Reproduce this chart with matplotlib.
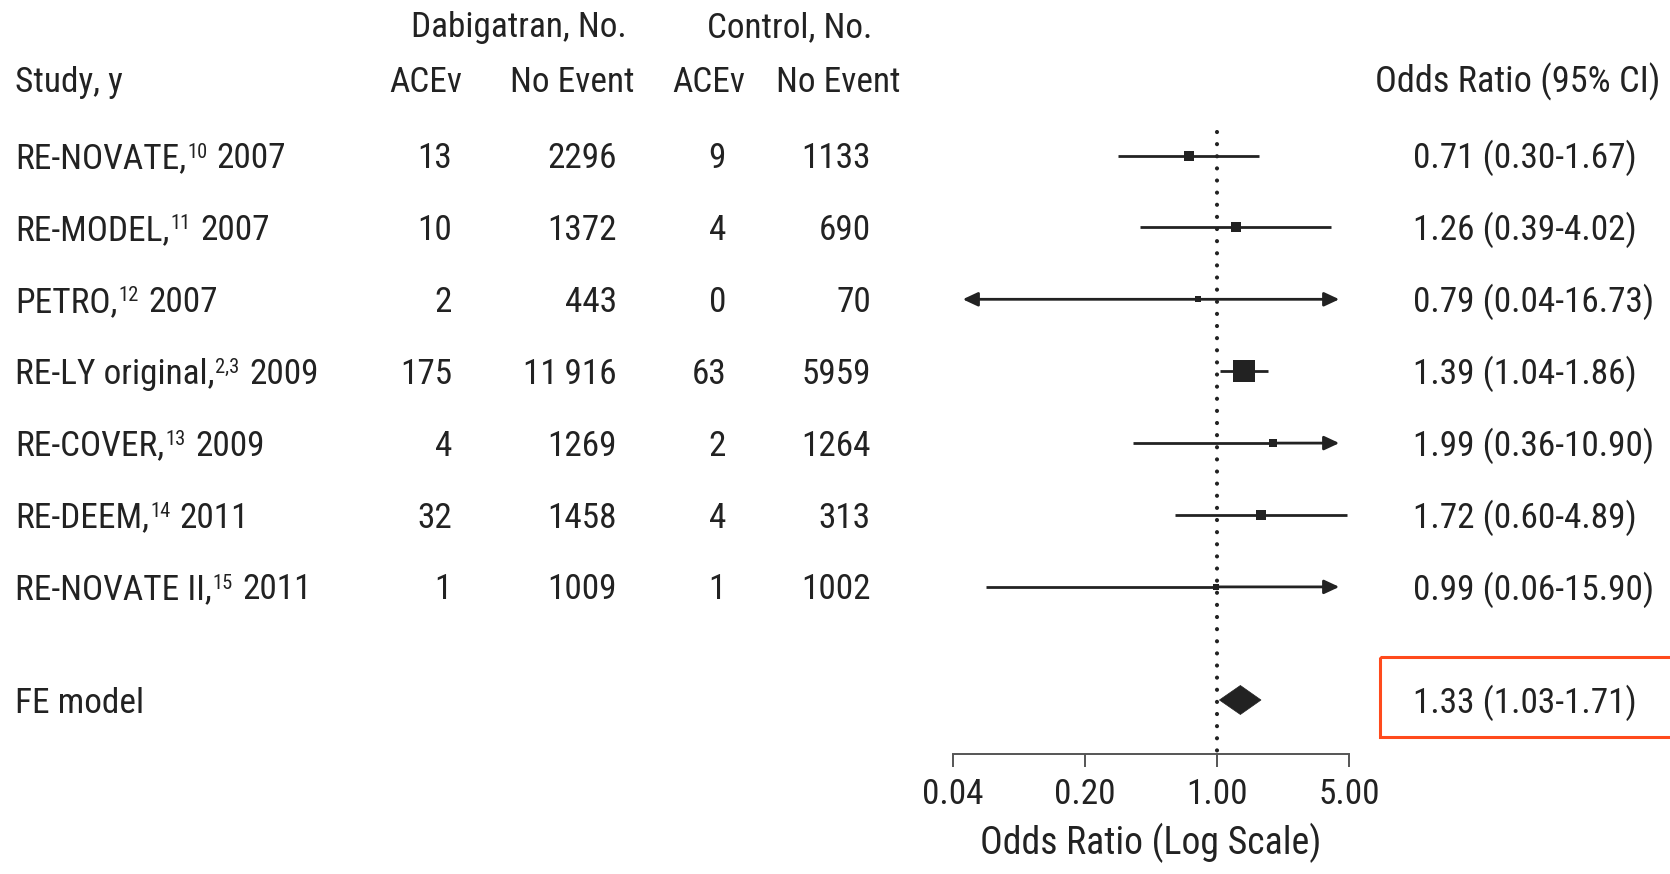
import numpy as np
import matplotlib.pyplot as plt
from matplotlib import font_manager
from matplotlib.patches import Polygon, Rectangle
from matplotlib.ticker import NullLocator

# data
studies = ['RE-NOVATE', 'RE-MODEL', 'PETRO', 'RE-LY original', 'RE-COVER', 'RE-DEEM', 'RE-NOVATE II']
refs = ['10', '11', '12', '2,3', '13', '14', '15']
years = [2007, 2007, 2007, 2009, 2009, 2011, 2011]
dab_events = [13, 10, 2, 175, 4, 32, 1]
dab_none = [2296, 1372, 443, 11916, 1269, 1458, 1009]
ctl_events = [9, 4, 0, 63, 2, 4, 1]
ctl_none = [1133, 690, 70, 5959, 1264, 313, 1002]
odds = [0.71, 1.26, 0.79, 1.39, 1.99, 1.72, 0.99]
ci_low = [0.30, 0.39, 0.04, 1.04, 0.36, 0.60, 0.06]
ci_high = [1.67, 4.02, 16.73, 1.86, 10.90, 4.89, 15.90]
fe_or, fe_low, fe_high = 1.33, 1.03, 1.71
ticks = [0.04, 0.20, 1.00, 5.00]

W, H = 1670, 874
INK = '#222222'

names = {f.name for f in font_manager.fontManager.ttflist}
FONT = 'Liberation Sans'
for cand in ['Liberation Sans Narrow', 'Roboto Condensed', 'Archivo Narrow',
             'PT Sans Narrow', 'Fira Sans Condensed', 'Barlow Semi Condensed']:
    if cand in names:
        FONT = cand
        break
plt.rcParams['font.family'] = [FONT, 'DejaVu Sans']
plt.rcParams['text.color'] = INK

fig = plt.figure(figsize=(W / 100, H / 100), dpi=100)
renderer = fig.canvas.get_renderer()

# size the font so a value label is as wide as in the original
probe = fig.text(0, 0, '0.71 (0.30-1.67)', fontsize=20)
FS = 20 * 224 / probe.get_window_extent(renderer).width
probe.remove()
CAP = 0.71 * FS * 100 / 72  # cap height in pixels

bg = fig.add_axes([0, 0, 1, 1])
bg.set_xlim(0, W)
bg.set_ylim(H, 0)
bg.axis('off')

# forest panel, same vertical pixel scale as the table
x0, x1 = 953, 1349
ax = fig.add_axes([x0 / W, 0, (x1 - x0) / W, 1])
ax.set_xscale('log')
ax.set_xlim(ticks[0], ticks[-1])
ax.set_ylim(H, 0)
ax.patch.set_visible(False)
for s in ['top', 'left', 'right']:
    ax.spines[s].set_visible(False)
ax.spines['bottom'].set_position(('data', 754))
ax.spines['bottom'].set_bounds(ticks[0], ticks[-1])
ax.spines['bottom'].set_color('#555555')
ax.spines['bottom'].set_linewidth(1.4)
ax.set_xticks(ticks)
ax.set_xticklabels([f'{t:.2f}' for t in ticks])
ax.xaxis.set_minor_locator(NullLocator())
ax.tick_params(axis='x', direction='out', length=9, width=1.4, color='#555555',
               labelsize=FS, labelcolor=INK, pad=8)
ax.set_yticks([])

ROW0, STEP = 155.5, 71.9
FE_Y = 700
OFF = CAP / 2  # baseline below row centre


def fmt(n):
    return f'{n:,}'.replace(',', '\u2009') if n >= 10000 else str(n)


def width(t):
    return t.get_window_extent(renderer).width


# headers
bg.text(519, 37, 'Dabigatran, No.', ha='center', va='baseline', fontsize=FS)
bg.text(790, 37, 'Control, No.', ha='center', va='baseline', fontsize=FS)
bg.text(15, 92, 'Study, y', ha='left', va='baseline', fontsize=FS)
for xc, t in [(426, 'ACEv'), (572, 'No Event'), (709, 'ACEv'), (838, 'No Event')]:
    bg.text(xc, 92, t, ha='center', va='baseline', fontsize=FS)
bg.text(1660, 92, 'Odds Ratio (95% CI)', ha='right', va='baseline', fontsize=FS * 1.03)

# reference line at OR = 1
ax.plot([1, 1], [132, 754], color=INK, lw=3.0, linestyle=(0, (0.01, 2.9)),
        dash_capstyle='round', clip_on=False)

arrow = dict(arrowstyle='-|>,head_length=9,head_width=4.2', mutation_scale=1,
             lw=2.0, color=INK, shrinkA=0, shrinkB=7)

SUP = 0.58
for i in range(len(studies)):
    y = ROW0 + i * STEP
    b = y + OFF
    # study name, superscript reference, year
    t1 = bg.text(15, b, studies[i] + ',', ha='left', va='baseline', fontsize=FS)
    xs = 15 + width(t1) + 1
    t2 = bg.text(xs, b - CAP * (1 - SUP), refs[i], ha='left', va='baseline', fontsize=FS * SUP)
    bg.text(xs + width(t2) + 0.27 * FS * 100 / 72, b, str(years[i]),
            ha='left', va='baseline', fontsize=FS)

    bg.text(452, b, fmt(dab_events[i]), ha='right', va='baseline', fontsize=FS)
    bg.text(617, b, fmt(dab_none[i]), ha='right', va='baseline', fontsize=FS)
    bg.text(726, b, fmt(ctl_events[i]), ha='right', va='baseline', fontsize=FS)
    bg.text(871, b, fmt(ctl_none[i]), ha='right', va='baseline', fontsize=FS)
    bg.text(1413, b, f'{odds[i]:.2f} ({ci_low[i]:.2f}-{ci_high[i]:.2f})',
            ha='left', va='baseline', fontsize=FS)

    if ci_low[i] <= ticks[0]:
        ax.annotate('', xy=(ticks[0], y), xytext=(odds[i], y), arrowprops=arrow,
                    annotation_clip=False)
    else:
        ax.plot([ci_low[i], odds[i]], [y, y], color=INK, lw=2.0,
                solid_capstyle='butt', clip_on=False)
    if ci_high[i] > ticks[-1]:
        ax.annotate('', xy=(ticks[-1], y), xytext=(odds[i], y), arrowprops=arrow,
                    annotation_clip=False)
    else:
        ax.plot([odds[i], ci_high[i]], [y, y], color=INK, lw=2.0,
                solid_capstyle='butt', clip_on=False)

    # box side grows with precision of the estimate
    se = (np.log(ci_high[i]) - np.log(ci_low[i])) / (2 * 1.96)
    side_px = 4.9 + 2.24 / se
    ax.plot(odds[i], y, marker='s', ms=side_px * 0.76, color=INK, mec=INK,
            mew=0, clip_on=False, zorder=3)

# fixed-effect summary
bg.text(15, FE_Y + OFF, 'FE model', ha='left', va='baseline', fontsize=FS)
half = 14.5
ax.add_patch(Polygon([(fe_low, FE_Y), (fe_or, FE_Y - half), (fe_high, FE_Y), (fe_or, FE_Y + half)],
                     closed=True, fc=INK, ec=INK, lw=0.5, clip_on=False, zorder=3))
bg.text(1413, FE_Y + OFF, f'{fe_or:.2f} ({fe_low:.2f}-{fe_high:.2f})',
        ha='left', va='baseline', fontsize=FS)
bg.add_patch(Rectangle((1380, 657), 320, 80, fill=False, ec='#ff4a1c', lw=2.2, clip_on=False))

bg.text((x0 + x1) / 2, 854, 'Odds Ratio (Log Scale)', ha='center', va='baseline', fontsize=FS * 1.07)

fig.savefig('out.png', dpi=100)
